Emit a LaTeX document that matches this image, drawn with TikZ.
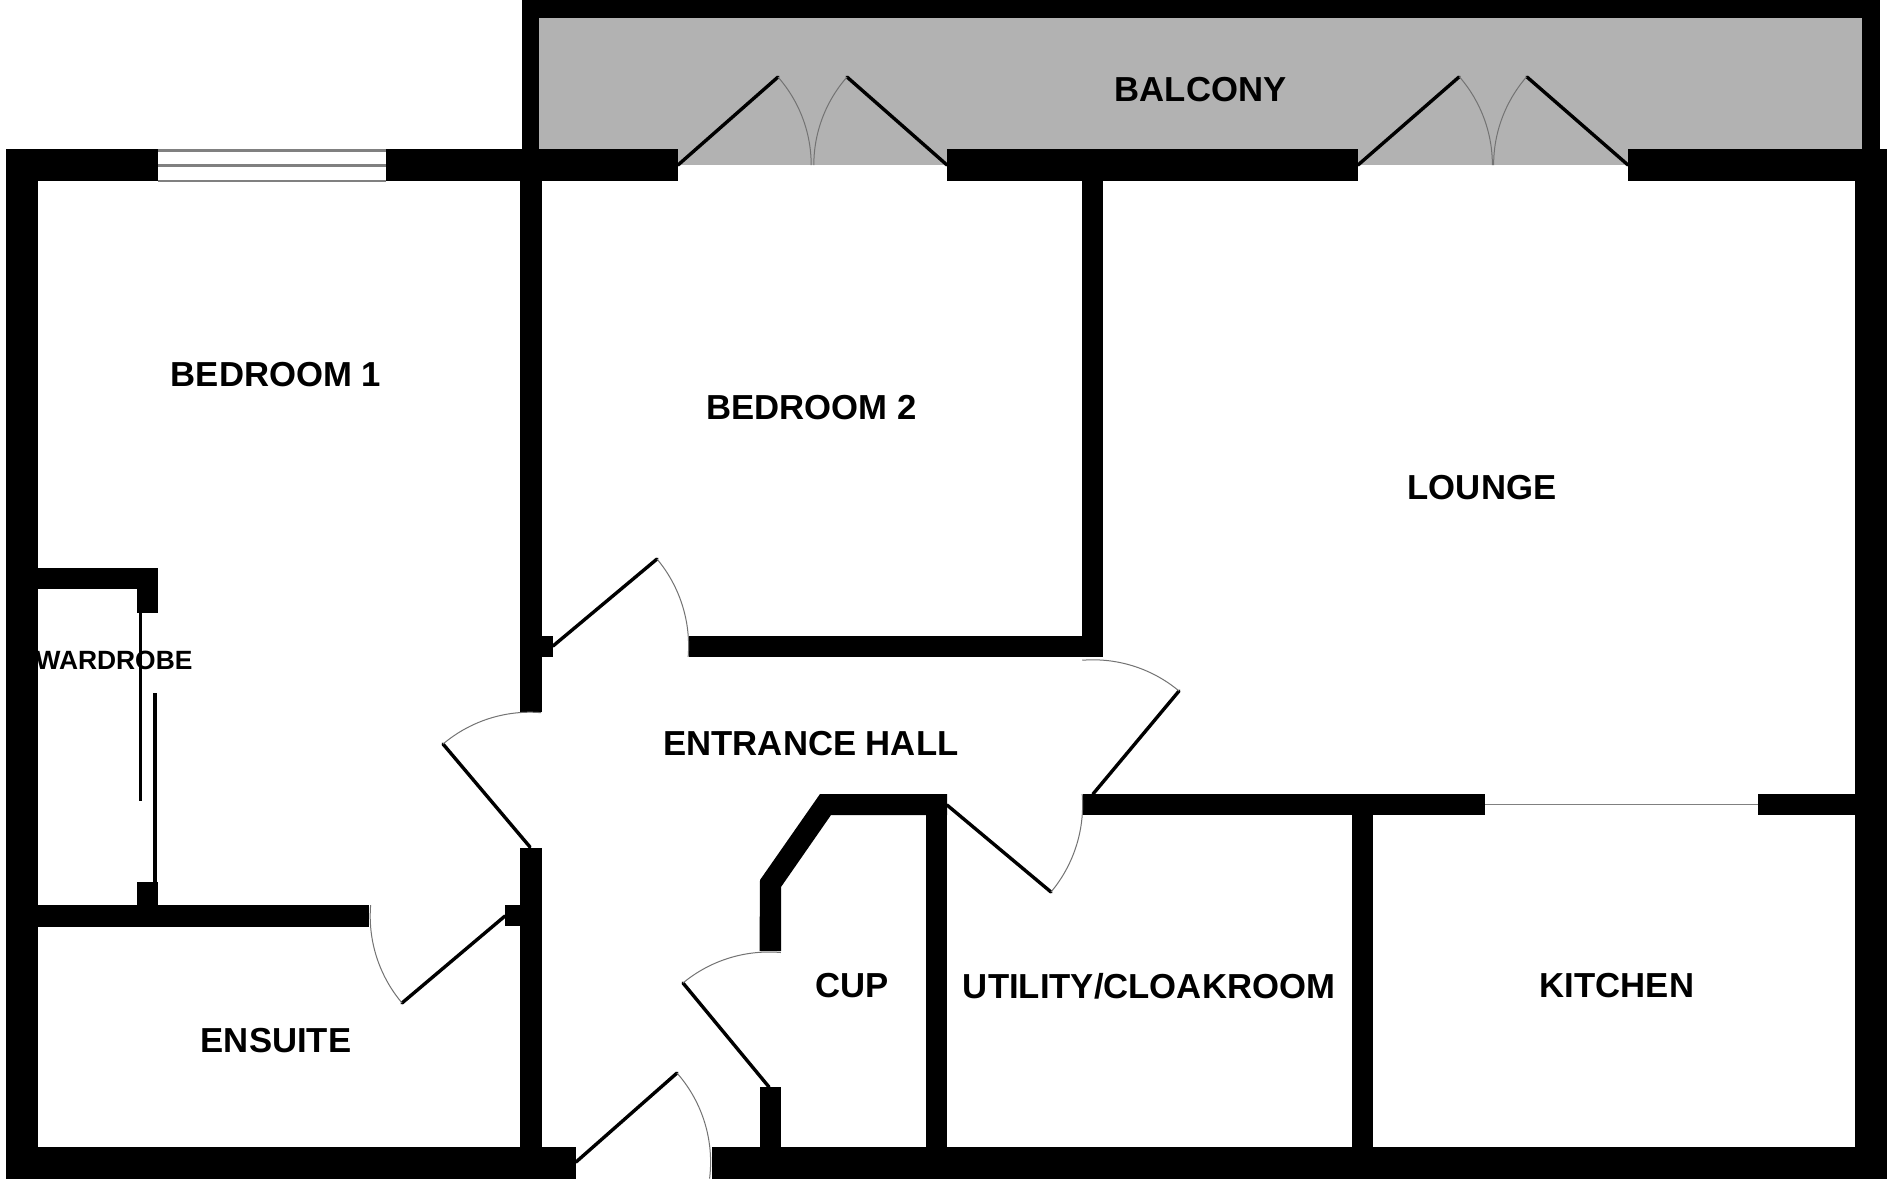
\documentclass[tikz,border=0pt]{standalone}
\usepackage{fontspec}
\setmainfont{Liberation Sans}
\newcommand{\doorswing}[5]{\draw[swing] plot[domain=#4:#5,samples=24,smooth] ({#1+#3*cos(\x)},{#2+#3*sin(\x)});}
\begin{document}
\begin{tikzpicture}[x=1pt,y=-1pt,
  wall/.style={fill=black,draw=none},
  leaf/.style={draw=black,line width=3.4pt,line cap=round},
  swing/.style={draw=black!55,line width=1pt},
  glaze/.style={draw=black!50,line width=2.6pt},
  slide/.style={draw=black,line width=3.2pt},
  room/.style={font=\bfseries\fontsize{34.7}{36}\selectfont,text=black,inner sep=0pt}]
\useasboundingbox (0,0) rectangle (1888,1184);
\fill[white] (0,0) rectangle (1888,1184);
% balcony floor
\fill[fill=black!30] (539,18) rectangle (1862,165);
% balcony walls
\fill[wall] (522,0) rectangle (1880,18);
\fill[wall] (522,0) rectangle (539,149);
\fill[wall] (1862,0) rectangle (1880,149);
% outer walls
\fill[wall] (5.5,149) rectangle (158,181);
\fill[wall] (386,149) rectangle (678,181);
\fill[wall] (947,149) rectangle (1358,181);
\fill[wall] (1628,149) rectangle (1887,181);
\fill[wall] (5.5,149) rectangle (37.5,1179);
\fill[wall] (5.5,1146.5) rectangle (576,1179);
\fill[wall] (712,1146.5) rectangle (1887,1179);
\fill[wall] (1855,149) rectangle (1887,1179);
% interior walls
\fill[wall] (520,181) rectangle (541.5,712);
\fill[wall] (541,636) rectangle (553,657);
\fill[wall] (689,636) rectangle (1103,657);
\fill[wall] (1082,181) rectangle (1103,657);
\fill[wall] (520,848) rectangle (541.5,1147);
\fill[wall] (505,905) rectangle (521,926);
\fill[wall] (37,905) rectangle (369,927);
\fill[wall] (37,568) rectangle (158,589);
\fill[wall] (137,568) rectangle (158,613);
\fill[wall] (137,882) rectangle (158,927);
\fill[wall] (760,880) -- (820,794) -- (947,794) -- (947,815) -- (831,815) -- (781,887) -- (781,951) -- (759.5,951) -- cycle;
\fill[wall] (926,794) rectangle (947,1147);
\fill[wall] (759.5,1087) rectangle (781,1147);
\fill[wall] (1083,794) rectangle (1485,815);
\fill[wall] (1758,794) rectangle (1855,815);
\fill[wall] (1352,794) rectangle (1373,1147);
% window and kitchen opening
\draw[glaze] (158,150.5) -- (386,150.5);
\draw[glaze] (158,165.5) -- (386,165.5);
\draw[glaze] (158,181) -- (386,181);
\draw[draw=black!50,line width=1.4pt] (1485,804.5) -- (1758,804.5);
% wardrobe sliders
\draw[slide] (140.3,613) -- (140.3,800.5);
\draw[slide] (155,693) -- (155,882);
% door leaves
\draw[leaf] (678,165) -- (778,77);
\draw[leaf] (947,165) -- (847,77);
\draw[leaf] (1358,165) -- (1459,77);
\draw[leaf] (1628,165) -- (1527,77);
\draw[leaf] (553,646) -- (657,559);
\draw[leaf] (530,847) -- (443,744);
\draw[leaf] (505,916) -- (402,1003);
\draw[leaf] (576,1162) -- (677,1073);
\draw[leaf] (769,1087) -- (683,983);
\draw[leaf] (947,805) -- (1051,892);
\draw[leaf] (1093,794) -- (1179,691);
% door swings
\doorswing{678}{165}{133.2}{-41.3}{0}
\doorswing{947}{165}{133.2}{-138.7}{-180}
\doorswing{1358}{165}{134.4}{-41.1}{0}
\doorswing{1628}{165}{134.4}{-139}{-180}
\doorswing{553}{646}{135.6}{-39.9}{4.6}
\doorswing{530}{847}{134.8}{-130.2}{-85.3}
\doorswing{505}{916}{134.8}{139.8}{184.6}
\doorswing{576}{1162}{134.6}{-41.4}{7.1}
\doorswing{769}{1087}{135}{-129.6}{-85}
\doorswing{947}{805}{135.6}{39.9}{-4.6}
\doorswing{1093}{794}{134.2}{-50.1}{-94.6}
% labels
\node[room] (balcony) at (1200.5,90) {BALCONY};
\node[room] (bedone) at (276,374.5) {BEDROOM 1};
\node[room] (bedtwo) at (811.5,408) {BEDROOM 2};
\node[room] (lounge) at (1482,488) {LOUNGE};
\node[room,font=\bfseries\fontsize{26.4}{28}\selectfont] (wardrobe) at (114,660.5) {WARDROBE};
\node[room] (hall) at (811,744) {ENTRANCE HALL};
\node[room] (cup) at (852.5,986) {CUP};
\node[room] (utility) at (1149,986) {UTILITY/CLOAKROOM};
\node[room] (kitchen) at (1617,986) {KITCHEN};
\node[room] (ensuite) at (276,1041) {ENSUITE};
\end{tikzpicture}
\end{document}
